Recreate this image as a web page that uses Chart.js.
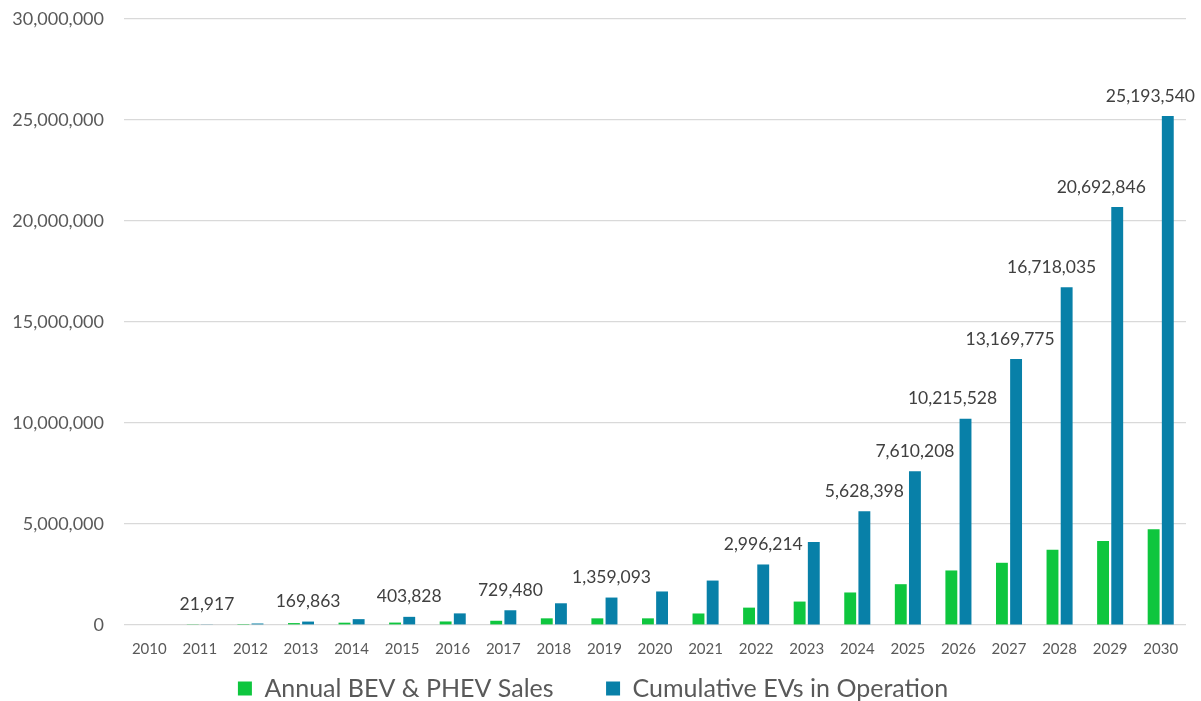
<!DOCTYPE html>
<html>
<head>
<meta charset="utf-8">
<script src="https://cdn.jsdelivr.net/npm/chart.js@4/dist/chart.umd.min.js"></script>
<style>
    html, body { margin: 0; padding: 0; background: #ffffff; }
    #wrap { width: 1201px; height: 701px; position: relative; }
</style>
</head>
<body>
<div id="wrap"><canvas id="evChart"></canvas></div>
<script>
// ─── Data ─────────────────────────────────────────────────────────────────────
const years = ['2010', '2011', '2012', '2013', '2014', '2015', '2016', '2017', '2018', '2019', '2020',
    '2021', '2022', '2023', '2024', '2025', '2026', '2027', '2028', '2029', '2030'];

const annualSales = [0, 18000, 50000, 95000, 115000, 120000, 175000, 210000, 330000, 330000, 330000,
    570000, 860000, 1160000, 1610000, 2020000, 2700000, 3080000, 3730000, 4160000, 4740000];

const cumulativeEVs = [0, 21917, 75000, 169863, 290000, 403828, 575000, 729480, 1075000, 1359093, 1660000,
    2200000, 2996214, 4110000, 5628398, 7610208, 10215528, 13169775, 16718035, 20692846, 25193540];

// years whose cumulative bar carries a value label
const labelledYears = ['2011', '2013', '2015', '2017', '2019', '2022', '2024', '2025', '2026', '2027', '2028', '2029', '2030'];

const yTicks = [0, 5000000, 10000000, 15000000, 20000000, 25000000, 30000000];

const seriesNames = ['Annual BEV & PHEV Sales', 'Cumulative EVs in Operation'];

const FONT = 'Lato, "DejaVu Sans", sans-serif';

// ─── Value labels ─────────────────────────────────────────────────────────────
const valueLabels = {
    id: 'valueLabels',
    afterDatasetsDraw(chart, args, opts) {
        const ctx = chart.ctx;
        const meta = chart.getDatasetMeta(1);
        ctx.save();
        ctx.font = '17.5px ' + FONT;
        ctx.fillStyle = '#404040';
        ctx.textAlign = 'center';
        ctx.textBaseline = 'middle';
        labelledYears.forEach(yr => {
            const i = years.indexOf(yr);
            const bar = meta.data[i];
            if (!bar) return;
            const txt = cumulativeEVs[i].toLocaleString('en-US');
            const w = ctx.measureText(txt).width;
            let x = bar.x + (opts.nudge[yr] || 0);
            if (x + w / 2 > chart.width - 6) x = chart.width - 6 - w / 2;
            ctx.fillText(txt, x, bar.y - 20);
        });
        ctx.restore();
    }
};

// ─── Chart ────────────────────────────────────────────────────────────────────
const ctx = document.getElementById('evChart').getContext('2d');
const evChart = new Chart(ctx, {
    type: 'bar',
    data: {
        labels: years,
        datasets: [{
            label: seriesNames[0],
            data: annualSales,
            backgroundColor: '#0ec63e',
            borderWidth: 0,
            categoryPercentage: 0.56,
            barPercentage: 0.84
        }, {
            label: seriesNames[1],
            data: cumulativeEVs,
            backgroundColor: '#0880a8',
            borderWidth: 0,
            categoryPercentage: 0.56,
            barPercentage: 0.84
        }]
    },
    options: {
        responsive: true,
        maintainAspectRatio: false,
        animation: false,
        layout: { padding: { top: 19, right: 15, bottom: -10, left: 0 } },
        plugins: {
            tooltip: { enabled: false },
            valueLabels: { nudge: { '2026': -13, '2027': -6, '2028': -15, '2029': -16 } },
            legend: {
                position: 'bottom',
                labels: {
                    color: '#595959',
                    font: { family: FONT, size: 25 },
                    boxWidth: 14,
                    boxHeight: 14,
                    padding: 15,
                    // wider gap between the two entries
                    generateLabels: (chart) => {
                        const items = Chart.defaults.plugins.legend.labels.generateLabels(chart);
                        items[0].text += '\u2002\u2002\u2002';
                        return items;
                    }
                }
            }
        },
        scales: {
            x: {
                afterFit: (scale) => { scale.height = 36; },
                grid: { display: false, drawTicks: false },
                border: { display: false },
                ticks: {
                    color: '#595959',
                    font: { family: FONT, size: 15 },
                    padding: 15,
                    maxRotation: 0,
                    autoSkip: false
                }
            },
            y: {
                min: 0,
                max: 30000000,
                afterFit: (scale) => {
                    scale.width = 124;
                    scale.paddingTop = 0;
                    scale.paddingBottom = 0;
                },
                afterBuildTicks: (scale) => { scale.ticks = yTicks.map(v => ({ value: v })); },
                grid: { color: '#d9d9d9', lineWidth: 1.2, drawTicks: false },
                border: { display: false },
                ticks: {
                    color: '#595959',
                    font: { family: FONT, size: 18 },
                    padding: 20,
                    callback: (v) => Number(v).toLocaleString('en-US')
                }
            }
        }
    },
    plugins: [valueLabels]
});
</script>
</body>
</html>
